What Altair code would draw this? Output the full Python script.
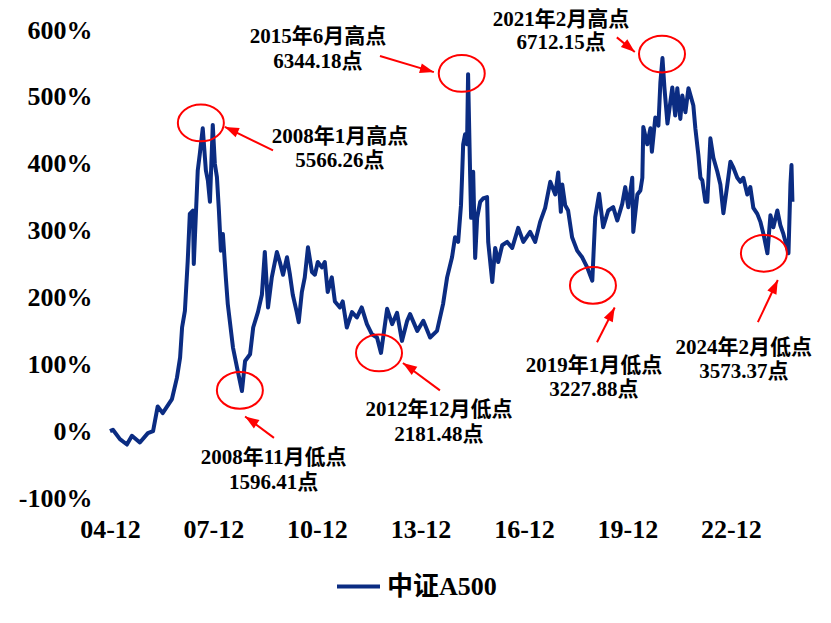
import altair as alt
import pandas as pd

# ---- series: 中证A500 cumulative return (%) ----
dates = [
    "2004-12-31", "2005-01-31", "2005-04-15", "2005-06-28", "2005-08-20", "2005-11-12",
    "2006-02-05", "2006-04-01", "2006-05-20", "2006-07-12", "2006-10-18", "2006-12-10",
    "2007-01-12", "2007-02-02", "2007-03-04", "2007-04-03", "2007-04-25", "2007-05-28",
    "2007-06-06", "2007-07-09", "2007-07-18", "2007-08-09", "2007-09-09", "2007-10-12",
    "2007-11-02", "2007-11-24", "2007-12-24", "2008-01-15", "2008-02-06", "2008-02-27",
    "2008-03-19", "2008-04-09", "2008-05-10", "2008-05-31", "2008-07-25", "2008-09-06",
    "2008-10-28", "2008-11-30", "2009-01-22", "2009-02-24", "2009-04-15", "2009-05-27",
    "2009-06-27", "2009-07-31", "2009-09-09", "2009-11-02", "2009-12-03", "2010-01-06",
    "2010-02-17", "2010-03-20", "2010-04-19", "2010-05-31", "2010-06-21", "2010-07-24",
    "2010-08-24", "2010-09-27", "2010-11-08", "2010-12-09", "2011-01-09", "2011-02-21",
    "2011-03-24", "2011-04-24", "2011-06-06", "2011-07-09", "2011-08-31", "2011-09-30",
    "2011-11-12", "2012-01-06", "2012-02-27", "2012-04-18", "2012-06-12", "2012-08-03",
    "2012-09-27", "2012-11-08", "2013-01-12", "2013-03-06", "2013-04-27", "2013-06-18",
    "2013-08-12", "2013-09-12", "2013-11-27", "2014-01-30", "2014-04-12", "2014-06-24",
    "2014-08-27", "2014-10-09", "2014-11-30", "2015-01-01", "2015-02-03", "2015-03-05",
    "2015-03-16", "2015-03-28", "2015-04-17", "2015-05-08", "2015-05-19", "2015-06-09",
    "2015-06-20", "2015-07-12", "2015-08-02", "2015-08-23", "2015-09-24", "2015-10-25",
    "2015-12-06", "2015-12-18", "2016-01-30", "2016-03-01", "2016-04-02", "2016-05-14",
    "2016-07-06", "2016-08-28", "2016-10-31", "2016-12-24", "2017-03-06", "2017-04-28",
    "2017-06-20", "2017-08-12", "2017-10-05", "2017-11-27", "2017-12-28", "2018-01-25",
    "2018-02-09", "2018-03-12", "2018-04-12", "2018-05-24", "2018-07-17", "2018-09-08",
    "2018-10-31", "2018-12-24", "2019-01-24", "2019-03-06", "2019-04-18", "2019-06-11",
    "2019-08-02", "2019-09-15", "2019-11-06", "2019-12-08", "2020-01-09", "2020-02-20",
    "2020-03-02", "2020-04-14", "2020-05-16", "2020-06-06", "2020-06-16", "2020-07-28",
    "2020-08-30", "2020-09-15", "2020-10-21", "2020-11-23", "2020-12-14", "2021-01-05",
    "2021-01-26", "2021-02-27", "2021-03-29", "2021-04-19", "2021-05-20", "2021-06-11",
    "2021-07-13", "2021-08-03", "2021-09-05", "2021-10-07", "2021-11-28", "2021-12-19",
    "2022-01-20", "2022-02-11", "2022-03-03", "2022-04-04", "2022-04-25", "2022-05-27",
    "2022-06-28", "2022-08-09", "2022-09-10", "2022-10-12", "2022-11-23", "2022-12-25",
    "2023-01-26", "2023-03-08", "2023-04-09", "2023-05-11", "2023-06-22", "2023-07-24",
    "2023-08-25", "2023-10-06", "2023-11-08", "2023-12-10", "2024-01-21", "2024-02-22",
    "2024-03-24", "2024-05-05", "2024-06-06", "2024-07-08", "2024-08-31", "2024-09-21",
    "2024-10-02", "2024-10-12",
]
values = [
    0, 2, -12, -20, -7, -17,
    -3, 0, 37, 27, 48, 80,
    110, 155, 180, 255, 325, 330,
    250, 360, 390, 415, 453, 390,
    375, 343, 458, 400, 380, 330,
    270, 295, 230, 190, 125, 95,
    60, 105, 115, 155, 178, 204,
    268, 185, 230, 268, 253, 234,
    260, 234, 204, 178, 163, 208,
    230, 275, 238, 234, 253, 245,
    253, 208, 230, 194, 185, 194,
    155, 178, 170, 185, 160, 145,
    140, 117, 183, 160, 177, 135,
    165, 175, 150, 165, 140, 150,
    190, 230, 260, 290, 283, 338,
    379, 429, 444, 429, 534, 388,
    319, 388, 259, 319, 343, 348,
    350, 283, 223, 274, 253, 278,
    283, 274, 304, 283, 298, 283,
    313, 334, 373, 354, 387, 328,
    369, 338, 330, 290, 270, 260,
    245, 225, 320, 355, 305, 330,
    335, 315, 340, 365, 335, 379,
    298, 354, 360, 379, 455, 429,
    453, 418, 469, 457, 522, 558,
    513, 460, 492, 514, 472, 513,
    467, 502, 477, 513, 487, 453,
    413, 379, 375, 343, 343, 438,
    409, 388, 369, 326, 369, 403,
    394, 379, 373, 379, 354, 365,
    334, 325, 313, 295, 266, 323,
    305, 330, 308, 295, 266, 370,
    398, 343,
]
series_name = "中证A500"

# ---- axis ticks ----
x_tick_years = [2004, 2007, 2010, 2013, 2016, 2019, 2022]
y_ticks = [-100, 0, 100, 200, 300, 400, 500, 600]

# ---- annotations ----
circle_dates = ["2007-08-20", "2008-10-06", "2012-10-18", "2015-03-13", "2020-12-31", "2018-12-31", "2023-12-15"]
circle_values = [461, 61, 117, 535, 564, 218, 266]

arrow_start_dates = ["2009-09-22", "2009-10-02", "2014-07-25", "2012-10-28", "2019-09-10", "2019-02-12", "2023-10-12"]
arrow_start_values = [420, -10, 61, 561, 589, 133, 163]
arrow_tip_dates = ["2008-04-30", "2008-11-30", "2013-06-28", "2014-05-22", "2020-03-18", "2019-08-18", "2024-05-10"]
arrow_tip_values = [455, 22, 102, 537, 567, 185, 226]
arrow_angles = [294, 304, 304, 106, 130, 27, 25]

label_line1 = ["2008年1月高点", "2008年11月低点", "2012年12月低点", "2015年6月高点", "2021年2月高点", "2019年1月低点", "2024年2月低点"]
label_line2 = ["5566.26点", "1596.41点", "2181.48点", "6344.18点", "6712.15点", "3227.88点", "3573.37点"]
label_dates = ["2011-08-31", "2009-09-28", "2014-07-15", "2011-01-10", "2018-01-27", "2019-01-10", "2023-05-16"]
label_y1 = [440, -40, 31, 589, 615, 97, 124]
label_y2 = [404, -78, -6, 552, 580, 61, 88]

FONT = "'Liberation Serif', 'Noto Sans CJK SC', serif"
LINE_COLOR = "#0b2c82"
RED = "#ff0000"

df = pd.DataFrame({"date": dates, "value": values, "series": series_name})
circles = pd.DataFrame({"date": circle_dates, "value": circle_values})
arrows = pd.DataFrame({
    "d1": arrow_start_dates, "v1": arrow_start_values,
    "d2": arrow_tip_dates, "v2": arrow_tip_values, "angle": arrow_angles,
})
labels = pd.DataFrame({
    "date": label_dates * 2,
    "value": label_y1 + label_y2,
    "text": label_line1 + label_line2,
})

x_scale = alt.Scale(
    type="utc",
    domain=[alt.DateTime(year=2004, month=12, date=31, utc=True),
            alt.DateTime(year=2024, month=12, date=31, utc=True)],
)
y_scale = alt.Scale(domain=[-100, 600], nice=False, zero=False)

x_axis = alt.Axis(
    values=[alt.DateTime(year=y, month=12, date=31, utc=True) for y in x_tick_years],
    labelExpr="utcFormat(datum.value, '%y-%m')",
    title=None, grid=False, ticks=False, domain=False,
    labelFont=FONT, labelFontSize=26, labelFontWeight="bold", labelColor="black",
    labelPadding=18, labelFlush=False, labelOverlap=False,
)
y_axis = alt.Axis(
    values=y_ticks,
    labelExpr="datum.value + '%'",
    title=None, grid=False, ticks=False, domain=False,
    labelFont=FONT, labelFontSize=26, labelFontWeight="bold", labelColor="black",
    labelPadding=18, labelOverlap=False,
)

line = alt.Chart(df).mark_line(strokeWidth=4, strokeJoin="round").encode(
    x=alt.X("date:T", scale=x_scale, axis=x_axis),
    y=alt.Y("value:Q", scale=y_scale, axis=y_axis),
    color=alt.Color(
        "series:N",
        scale=alt.Scale(domain=[series_name], range=[LINE_COLOR]),
        legend=alt.Legend(
            title=None, orient="none", legendX=225, legendY=533, padding=0,
            symbolType="stroke", symbolStrokeWidth=4, symbolSize=1849,
            labelFont=FONT, labelFontSize=26, labelFontWeight="bold",
            labelColor="black", labelOffset=5,
        ),
    ),
)

ellipse_path = "M-1,0 A1,0.8 0 1,1 1,0 A1,0.8 0 1,1 -1,0 Z"
circ = alt.Chart(circles).mark_point(
    shape=ellipse_path, size=2116, filled=False, stroke=RED, strokeWidth=2, opacity=1
).encode(
    x=alt.X("date:T", scale=x_scale),
    y=alt.Y("value:Q", scale=y_scale),
)

arrow_lines = alt.Chart(arrows).mark_rule(color=RED, strokeWidth=2).encode(
    x=alt.X("d1:T", scale=x_scale), y=alt.Y("v1:Q", scale=y_scale),
    x2="d2:T", y2="v2:Q",
)

head_path = "M0,0 L-0.5,1.4 L0.5,1.4 Z"
arrow_heads = alt.Chart(arrows).mark_point(
    shape=head_path, size=400, filled=True, color=RED, opacity=1, strokeWidth=0
).encode(
    x=alt.X("d2:T", scale=x_scale), y=alt.Y("v2:Q", scale=y_scale),
    angle=alt.Angle("angle:Q", scale=None),
)

texts = alt.Chart(labels).mark_text(
    font=FONT, fontSize=21, fontWeight="bold", color="black",
    align="center", baseline="middle",
).encode(
    x=alt.X("date:T", scale=x_scale), y=alt.Y("value:Q", scale=y_scale),
    text="text:N",
)

chart = alt.layer(line, circ, arrow_lines, arrow_heads, texts).properties(
    width=690, height=468,
    autosize=alt.AutoSizeParams(type="none"),
    padding={"left": 102, "top": 22, "right": 23, "bottom": 117},
).configure_view(stroke=None)

chart.save("out.html", embed_options={"renderer": "svg", "actions": False})
